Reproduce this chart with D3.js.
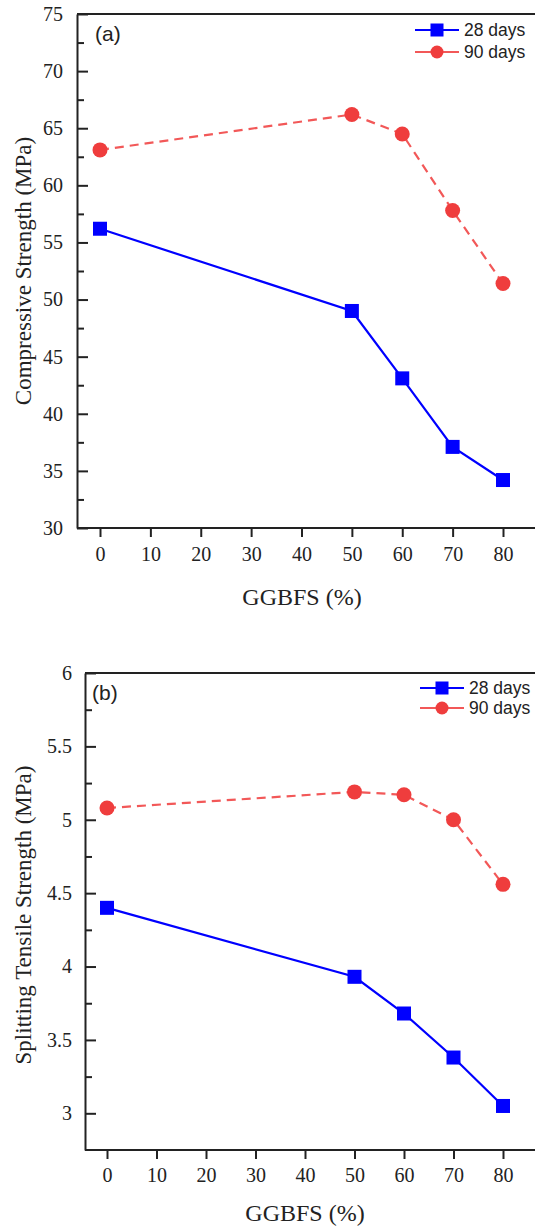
<!DOCTYPE html>
<meta charset="utf-8">
<style>
body { margin: 0; background: #fff; }
</style>
<body>
<script src="https://d3js.org/d3.v7.min.js"></script>
<script>

// data
var ggbfs = [0, 50, 60, 70, 80];
var compressive28 = [56.2, 49.0, 43.1, 37.1, 34.2];
var compressive90 = [63.1, 66.2, 64.5, 57.8, 51.4];
var tensile28 = [4.40, 3.93, 3.68, 3.38, 3.05];
var tensile90 = [5.08, 5.19, 5.17, 5.00, 4.56];
var xTicks = [0, 10, 20, 30, 40, 50, 60, 70, 80];
var compressiveTicks = [30, 35, 40, 45, 50, 55, 60, 65, 70, 75];
var compressiveMinor = [32.5, 37.5, 42.5, 47.5, 52.5, 57.5, 62.5, 67.5, 72.5];
var tensileTicks = [3, 3.5, 4, 4.5, 5, 5.5, 6];
var tensileMinor = [3.25, 3.75, 4.25, 4.75, 5.25, 5.75];
var seriesNames = ["28 days", "90 days"];

var blue = "#0000ff", red = "#ef3d3d", redLine = "#f25858", ink = "#222";
var serif = "'Liberation Serif', 'Times New Roman', serif";
var sans = "'Liberation Sans', Arial, sans-serif";

var svg = d3.select("body").append("svg")
  .attr("width", 535)
  .attr("height", 1226);

function styleAxis(sel) {
  sel.selectAll("path, line").style("stroke", ink).style("stroke-width", "2px");
  sel.selectAll("text")
    .style("font-family", serif)
    .style("font-size", "20px")
    .style("fill", ink);
}

function drawPanel(p) {
  var x = d3.scaleLinear().domain([0, 80]).range([p.x0, p.x80]);
  var y = d3.scaleLinear().domain(p.yDomain).range([p.bottom, p.top]);
  var g = svg.append("g");

  // top frame line
  g.append("line")
    .attr("x1", p.left).attr("x2", 537)
    .attr("y1", p.top).attr("y2", p.top)
    .style("stroke", ink).style("stroke-width", "2px");

  // minor y ticks
  var mg = g.append("g")
    .attr("transform", "translate(" + p.left + ",0)")
    .call(d3.axisLeft(y).tickValues(p.minor).tickSize(-7).tickFormat(""));
  mg.select(".domain").remove();
  styleAxis(mg);

  // y axis, ticks inward
  var yg = g.append("g")
    .attr("transform", "translate(" + p.left + ",0)")
    .call(d3.axisLeft(y).tickValues(p.yTicks).tickSize(-11).tickSizeOuter(0)
      .tickPadding(p.yPad).tickFormat(d3.format("")));
  styleAxis(yg);

  // x axis, ticks outward
  var xg = g.append("g")
    .attr("transform", "translate(0," + p.bottom + ")")
    .call(d3.axisBottom(x).tickValues(xTicks).tickSize(9).tickSizeOuter(0).tickPadding(p.xPad));
  xg.select(".domain").attr("d", "M" + p.left + ",0H537");
  styleAxis(xg);

  // axis titles
  g.append("text")
    .attr("x", p.xTitleX).attr("y", p.xTitleY)
    .attr("text-anchor", "middle")
    .style("font-family", serif).style("font-size", "24px").style("fill", ink)
    .text("GGBFS (%)");
  g.append("text")
    .attr("transform", "translate(" + p.yTitleX + "," + p.yTitleY + ") rotate(-90)")
    .attr("text-anchor", "middle")
    .style("font-family", serif).style("font-size", "23px").style("fill", ink)
    .text(p.yTitle);

  g.append("text")
    .attr("x", p.tagX).attr("y", p.tagY)
    .style("font-family", sans).style("font-size", "21px").style("fill", ink)
    .text(p.tag);

  var line = d3.line()
    .x(function(d, i) { return x(ggbfs[i]); })
    .y(function(d) { return y(d); });

  // 90 days dashed
  g.append("path").datum(p.s90)
    .attr("d", line).attr("fill", "none")
    .attr("stroke", redLine).attr("stroke-width", 2.2)
    .attr("stroke-dasharray", "9,6");
  g.selectAll(".c90").data(p.s90).enter().append("circle")
    .attr("cx", function(d, i) { return x(ggbfs[i]); })
    .attr("cy", function(d) { return y(d); })
    .attr("r", 7.5).attr("fill", red);

  // 28 days solid
  g.append("path").datum(p.s28)
    .attr("d", line).attr("fill", "none")
    .attr("stroke", blue).attr("stroke-width", 2.2);
  g.selectAll(".s28").data(p.s28).enter().append("rect")
    .attr("x", function(d, i) { return x(ggbfs[i]) - 7; })
    .attr("y", function(d) { return y(d) - 7; })
    .attr("width", 14).attr("height", 14)
    .attr("fill", blue);

  // legend
  seriesNames.forEach(function(name, i) {
    var ly = p.legY[i];
    var col = i === 0 ? blue : redLine;
    g.append("line")
      .attr("x1", p.legX).attr("x2", p.legX + 44)
      .attr("y1", ly).attr("y2", ly)
      .attr("stroke", col).attr("stroke-width", 2.2);
    if (i === 0) {
      g.append("rect").attr("x", p.legX + 22 - 6.5).attr("y", ly - 6.5)
        .attr("width", 13).attr("height", 13).attr("fill", blue);
    } else {
      g.append("circle").attr("cx", p.legX + 22).attr("cy", ly)
        .attr("r", 6.5).attr("fill", red);
    }
    g.append("text")
      .attr("x", p.legX + 49).attr("y", ly)
      .attr("dy", "0.35em")
      .style("font-family", sans).style("font-size", "17.5px").style("fill", ink)
      .text(name);
  });
}

drawPanel({
  left: 77, top: 14, bottom: 528, x0: 100, x80: 503,
  yDomain: [30, 75], yTicks: compressiveTicks, minor: compressiveMinor,
  yPad: 14, xPad: 10,
  s28: compressive28, s90: compressive90,
  xTitleX: 302, xTitleY: 605,
  yTitleX: 31, yTitleY: 271, yTitle: "Compressive Strength (MPa)",
  tag: "(a)", tagX: 95, tagY: 41,
  legX: 415, legY: [30, 52]
});

drawPanel({
  left: 85, top: 673, bottom: 1150, x0: 107, x80: 503,
  yDomain: [2.75, 6], yTicks: tensileTicks, minor: tensileMinor,
  yPad: 13, xPad: 9,
  s28: tensile28, s90: tensile90,
  xTitleX: 305, xTitleY: 1221,
  yTitleX: 31, yTitleY: 915, yTitle: "Splitting Tensile Strength (MPa)",
  tag: "(b)", tagX: 92, tagY: 700,
  legX: 420, legY: [688, 708]
});

</script>
</body>
